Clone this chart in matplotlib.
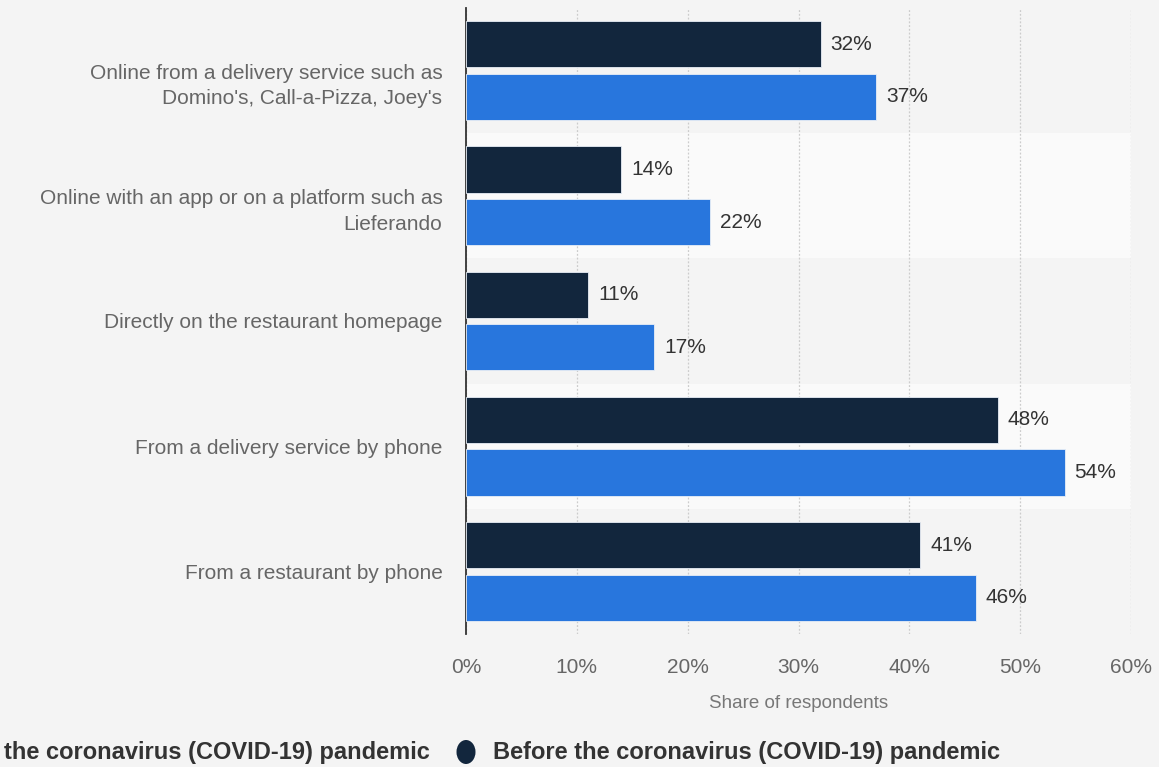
import matplotlib
matplotlib.use("Agg")
import matplotlib.pyplot as plt
import matplotlib.transforms as mtransforms
import numpy as np

categories = [
    "Online from a delivery service such as\nDomino's, Call-a-Pizza, Joey's",
    "Online with an app or on a platform such as\nLieferando",
    "Directly on the restaurant homepage",
    "From a delivery service by phone",
    "From a restaurant by phone",
]
before = [32, 14, 11, 48, 41]
during = [37, 22, 17, 54, 46]
series_names = [
    "During the coronavirus (COVID-19) pandemic",
    "Before the coronavirus (COVID-19) pandemic",
]
x_ticks = [0, 10, 20, 30, 40, 50, 60]
x_label = "Share of respondents"

BG = "#f4f4f4"
BAND = "#fafafa"
DARK = "#12263d"
BLUE = "#2876dd"
FONT = "Liberation Sans"

plt.rcParams["font.family"] = [FONT, "DejaVu Sans"]

fig = plt.figure(figsize=(11.59, 7.67), dpi=100, facecolor=BG)
ax = fig.add_axes([466 / 1159, 1 - 634 / 767, (1131 - 466) / 1159, (634 - 8) / 767])
ax.set_facecolor(BG)

n = len(categories)
y = np.arange(n)
bar_h = 0.37
gap = 0.025

# alternating row bands
for i in range(n):
    if i % 2 == 1:
        ax.axhspan(i - 0.5, i + 0.5, color=BAND, zorder=0, lw=0)

ax.barh(y - bar_h / 2 - gap, before, height=bar_h, color=DARK,
        edgecolor="#e8eef6", linewidth=0.6, zorder=3)
ax.barh(y + bar_h / 2 + gap, during, height=bar_h, color=BLUE,
        edgecolor="#e8eef6", linewidth=0.6, zorder=3)

for yi, v in zip(y - bar_h / 2 - gap, before):
    ax.text(v + 0.9, yi, f"{v}%", va="center", ha="left", fontsize=15,
            color="#333333", zorder=4)
for yi, v in zip(y + bar_h / 2 + gap, during):
    ax.text(v + 0.9, yi, f"{v}%", va="center", ha="left", fontsize=15,
            color="#333333", zorder=4)

ax.set_xlim(0, 60)
ax.set_ylim(n - 0.5, -0.5)
ax.set_xticks(x_ticks)
ax.set_xticklabels([f"{t}%" for t in x_ticks], fontsize=15, color="#666666")
ax.set_yticks(y)
ax.set_yticklabels(categories, fontsize=15, color="#666666", linespacing=1.45)
ax.tick_params(axis="y", length=0, pad=17)
ax.tick_params(axis="x", length=0, pad=17)

# two-line category labels sit slightly below the row centre
shift = mtransforms.ScaledTranslation(0, -0.10, fig.dpi_scale_trans)
for lbl in ax.get_yticklabels():
    if "\n" in lbl.get_text():
        lbl.set_transform(lbl.get_transform() + shift)

ax.grid(axis="x", color="#cccccc", linestyle=(0, (1.5, 1.5)), linewidth=0.9, zorder=1)
ax.grid(axis="y", visible=False)
for s in ["top", "right", "bottom"]:
    ax.spines[s].set_visible(False)
ax.spines["left"].set_color("#333333")
ax.spines["left"].set_linewidth(1.3)

ax.set_xlabel(x_label, fontsize=13.5, color="#777777", labelpad=13)

# legend row along the bottom edge
fig_w, fig_h = 1159, 767
ly = 1 - 752 / fig_h
fig.text(430 / fig_w, ly, series_names[0], ha="right", va="center",
         fontsize=17, fontweight="bold", color="#333333")
fig.patches.append(matplotlib.patches.Ellipse(
    (466 / fig_w, ly), 19 / fig_w, 24 / fig_h, transform=fig.transFigure,
    facecolor=DARK, edgecolor="none"))
fig.text(493 / fig_w, ly, series_names[1], ha="left", va="center",
         fontsize=17, fontweight="bold", color="#333333")

fig.savefig("out.png", dpi=100, facecolor=BG)
